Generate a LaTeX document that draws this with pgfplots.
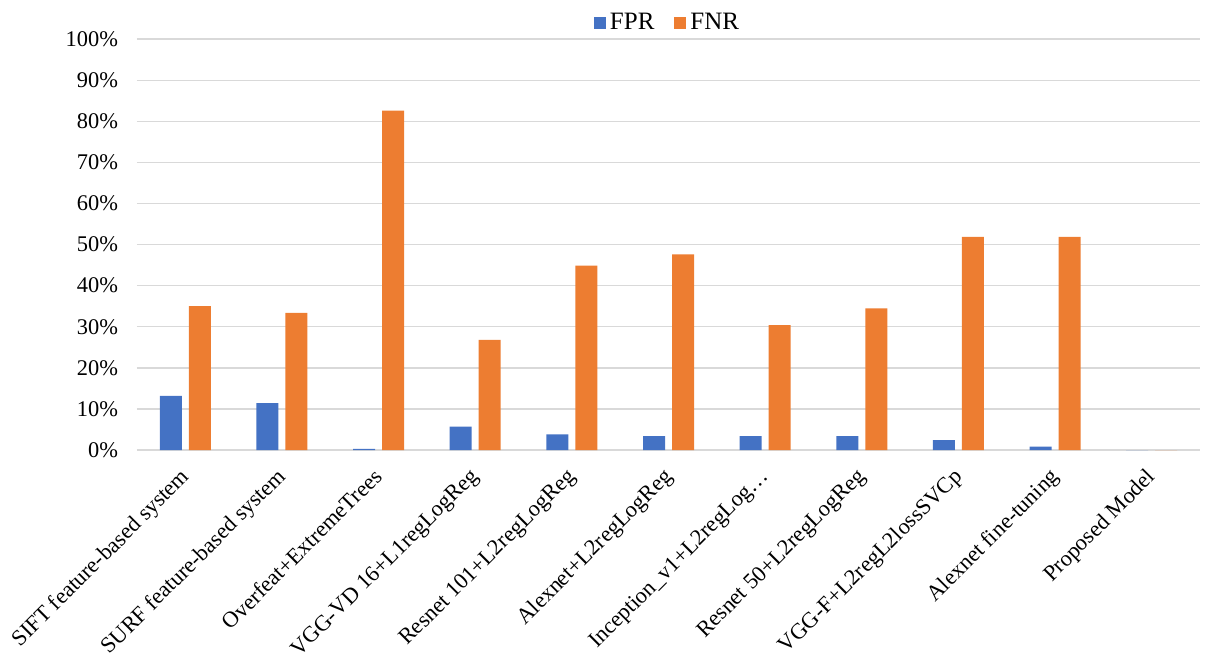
\documentclass[border=0pt]{standalone}
\usepackage{fontspec}
\setmainfont{Liberation Serif}
\usepackage{pgfplots}
\pgfplotsset{compat=1.18}
\definecolor{fprblue}{HTML}{4472C4}
\definecolor{fnrorange}{HTML}{ED7D31}
\definecolor{gridgray}{HTML}{D9D9D9}
\begin{document}
\begin{tikzpicture}
\useasboundingbox (-68.5bp,-102.5bp) rectangle (536bp,225bp);
\begin{axis}[
  at={(0,0)}, anchor=south west,
  scale only axis,
  width=531.5bp, height=205.4bp,
  ybar=3.5bp, bar width=11bp,
  xmin=-0.5, xmax=10.5,
  ymin=0, ymax=100,
  ytick={0,10,...,100},
  yticklabel={\pgfmathprintnumber{\tick}\%},
  /pgf/number format/assume math mode=true,
  xtick=data,
  xticklabels={SIFT feature-based system,SURF feature-based system,Overfeat+ExtremeTrees,VGG-VD 16+L1regLogReg,Resnet 101+L2regLogReg,Alexnet+L2regLogReg,Inception\_v1+L2regLog…,Resnet 50+L2regLogReg,VGG-F+L2regL2lossSVCp,Alexnet fine-tuning,Proposed Model},
  x tick label style={rotate=45, anchor=north east, inner sep=1bp, yshift=-2.5bp, xshift=-7bp},
  tick label style={font=\fontsize{11.2bp}{13bp}\selectfont, text=black},
  y tick label style={xshift=-6bp},
  major tick length=0pt,
  ymajorgrids,
  grid style={gridgray, line width=0.7bp},
  axis line style={draw=none},
  legend style={at={(0.5,1)}, anchor=south, yshift=-1bp, draw=none, fill=none,
    legend columns=2, font=\fontsize{12.5bp}{14bp}\selectfont,
    /tikz/every even column/.append style={column sep=8bp}},
  legend image code/.code={\fill[#1] (0bp,-3bp) rectangle (6bp,3bp);},
  legend cell align=left,
]
\addplot[fill=fprblue, draw=none] coordinates {
 (0,13.2) (1,11.4) (2,0.3) (3,5.7) (4,3.8) (5,3.4) (6,3.4) (7,3.4) (8,2.4) (9,0.8) (10,0)};
\addplot[fill=fnrorange, draw=none] coordinates {
 (0,35.0) (1,33.4) (2,82.6) (3,26.8) (4,44.9) (5,47.6) (6,30.4) (7,34.5) (8,51.9) (9,51.9) (10,0)};
\legend{FPR,FNR}
\end{axis}
\end{tikzpicture}
\end{document}
